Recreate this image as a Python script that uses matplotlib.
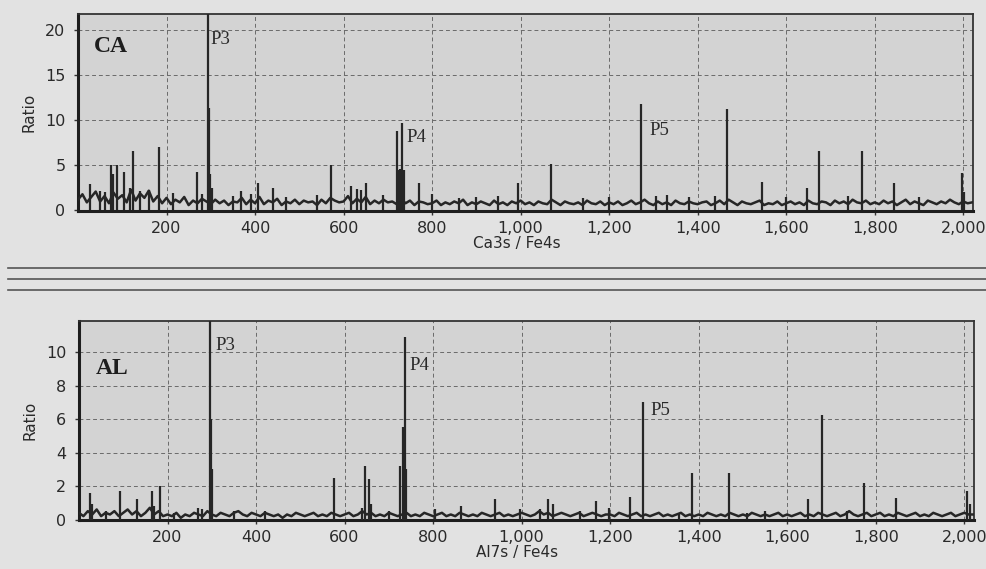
import matplotlib
matplotlib.use("Agg")
import matplotlib.pyplot as plt
from matplotlib.lines import Line2D
from matplotlib.ticker import FuncFormatter

# baseline trace, one value every 10 units from 0 to 2020
base_step = 10
ca_base = [
    1.2, 1.8, 0.9, 1.5, 2.1, 1.0, 1.6, 0.8, 2.0, 1.3, 1.7, 0.9, 2.3, 1.1, 1.9, 1.4, 2.2, 1.0, 1.6, 0.8,
    1.4, 0.7, 1.2, 0.9, 1.5, 0.6, 1.1, 0.8, 1.3, 1.0, 0.7, 1.2, 0.8, 1.1, 0.6, 1.0, 0.9, 1.4, 0.7, 1.2,
    0.8, 1.5, 0.7, 1.1, 0.9, 1.3, 0.6, 1.0, 0.8, 1.2, 0.7, 1.1, 0.9, 1.0, 0.6, 1.2, 0.8, 1.4, 1.1, 0.9,
    1.0, 1.6, 0.8, 1.3, 0.9, 1.5, 0.7, 1.1, 0.8, 1.2, 0.9, 1.0, 0.7, 1.3, 0.8, 1.1, 0.6, 1.0, 0.9, 0.7,
    0.8, 1.1, 0.6, 0.9, 0.7, 1.0, 0.8, 1.2, 0.6, 0.9, 0.7, 1.0, 0.8, 0.6, 1.1, 0.7, 0.9, 0.6, 1.0, 0.8,
    1.1, 0.7, 0.9, 0.6, 1.0, 0.8, 0.7, 1.2, 0.9, 0.6, 1.0, 0.8, 0.7, 0.9, 0.6, 1.1, 0.8, 0.7, 1.0, 0.6,
    0.9, 0.7, 1.0, 0.6, 0.8, 1.1, 0.7, 0.9, 1.2, 0.8, 0.6, 1.0, 0.7, 0.9, 0.6, 1.1, 0.8, 0.7, 1.0, 0.8,
    0.7, 0.9, 1.0, 0.6, 0.8, 1.1, 0.7, 1.2, 0.9, 0.6, 1.0, 0.8, 0.7, 0.9, 1.1, 0.6, 0.8, 0.7, 1.0, 0.6,
    0.8, 1.0, 0.7, 0.9, 0.6, 1.1, 0.8, 0.7, 1.0, 0.9, 0.6, 1.1, 0.8, 1.0, 0.7, 1.2, 0.9, 0.8, 1.1, 0.7,
    0.9, 0.7, 1.1, 0.8, 1.0, 0.6, 0.9, 1.2, 0.7, 1.0, 0.8, 0.6, 1.1, 0.9, 0.7, 1.0, 0.8, 1.2, 0.9, 0.7,
    1.0, 0.8, 0.9,
]
al_base = [
    0.4, 0.2, 0.5, 0.3, 0.6, 0.2, 0.4, 0.3, 0.5, 0.2, 0.4, 0.6, 0.3, 0.5, 0.2, 0.4, 0.7, 0.3, 0.5, 0.2,
    0.3, 0.2, 0.4, 0.1, 0.3, 0.2, 0.4, 0.3, 0.2, 0.5, 0.3, 0.2, 0.4, 0.3, 0.2, 0.4, 0.5, 0.3, 0.2, 0.4,
    0.3, 0.2, 0.4, 0.3, 0.2, 0.3, 0.1, 0.3, 0.2, 0.4, 0.3, 0.2, 0.3, 0.4, 0.2, 0.3, 0.2, 0.4, 0.3, 0.2,
    0.3, 0.4, 0.2, 0.3, 0.5, 0.3, 0.4, 0.2, 0.3, 0.2, 0.4, 0.3, 0.2, 0.3, 0.4, 0.2, 0.3, 0.2, 0.4, 0.3,
    0.2, 0.3, 0.4, 0.2, 0.3, 0.2, 0.4, 0.3, 0.2, 0.3, 0.2, 0.4, 0.3, 0.2, 0.3, 0.4, 0.2, 0.3, 0.2, 0.3,
    0.4, 0.3, 0.2, 0.3, 0.5, 0.3, 0.4, 0.2, 0.3, 0.4, 0.3, 0.2, 0.3, 0.4, 0.2, 0.3, 0.4, 0.3, 0.2, 0.3,
    0.3, 0.2, 0.4, 0.3, 0.2, 0.3, 0.4, 0.2, 0.3, 0.2, 0.3, 0.4, 0.2, 0.3, 0.2, 0.3, 0.4, 0.2, 0.3, 0.2,
    0.3, 0.2, 0.4, 0.3, 0.2, 0.3, 0.2, 0.4, 0.3, 0.2, 0.3, 0.2, 0.4, 0.3, 0.2, 0.3, 0.2, 0.3, 0.4, 0.2,
    0.3, 0.2, 0.3, 0.4, 0.2, 0.3, 0.2, 0.4, 0.3, 0.2, 0.3, 0.4, 0.2, 0.3, 0.5, 0.3, 0.2, 0.3, 0.4, 0.2,
    0.3, 0.4, 0.2, 0.3, 0.2, 0.4, 0.3, 0.2, 0.3, 0.4, 0.2, 0.3, 0.2, 0.4, 0.3, 0.2, 0.3, 0.4, 0.2, 0.3,
    0.4, 0.3, 0.3,
]

# spikes (position, ratio)
ca_spike_x = [28, 50, 62, 75, 80, 88, 105, 118, 125, 140, 160, 183, 215, 269, 280, 293, 296, 299, 302,
              350, 369, 390, 406, 440, 470, 540, 572, 617, 630, 640, 651, 690, 720, 724, 728, 733, 736,
              770, 800, 860, 900, 950, 993, 1068, 1140, 1200, 1273, 1305, 1330, 1380, 1440, 1466,
              1545, 1600, 1646, 1673, 1740, 1771, 1843, 1900, 1997, 2002]
ca_spike_y = [2.9, 2.2, 2.0, 5.0, 4.0, 5.0, 4.3, 2.5, 6.6, 2.2, 2.3, 7.0, 1.9, 4.3, 1.8, 24.0, 11.4, 4.0, 2.5,
              1.6, 2.2, 1.8, 3.0, 2.5, 1.5, 1.7, 5.0, 2.7, 2.4, 2.3, 3.0, 1.7, 8.8, 4.5, 4.6, 9.7, 4.5,
              3.0, 1.8, 1.4, 1.5, 1.6, 3.1, 5.2, 1.4, 1.5, 11.8, 1.6, 1.7, 1.5, 1.6, 11.3,
              3.2, 1.5, 2.5, 6.6, 1.6, 6.6, 3.1, 1.5, 4.2, 2.0]
al_spike_x = [26, 30, 60, 92, 130, 166, 170, 182, 215, 270, 279, 296, 298, 301, 350, 420, 576, 640, 646,
              655, 660, 700, 725, 733, 736, 739, 805, 862, 939, 996, 1041, 1059, 1070, 1131, 1169,
              1197, 1246, 1275, 1355, 1386, 1468, 1510, 1549, 1648, 1678, 1735, 1773, 1845, 2006, 2012]
al_spike_y = [1.6, 0.9, 0.5, 1.7, 1.25, 1.7, 0.8, 2.0, 0.4, 0.7, 0.6, 14.0, 6.0, 3.0, 0.5, 0.5, 2.5, 0.7, 3.2,
              2.4, 0.9, 0.5, 3.2, 5.5, 10.9, 3.0, 0.6, 0.8, 1.25, 0.6, 0.6, 1.2, 0.9, 0.5, 1.1,
              0.7, 1.35, 7.0, 0.4, 2.75, 2.75, 0.4, 0.5, 1.2, 6.25, 0.5, 2.2, 1.3, 1.7, 0.9]

x_ticks = [200, 400, 600, 800, 1000, 1200, 1400, 1600, 1800, 2000]
ca_yticks = [0, 5, 10, 15, 20]
al_yticks = [0, 2, 4, 6, 8, 10]

# peak labels: (text, x, y)
ca_peaks = [("P3", 300, 19.0), ("P4", 742, 8.1), ("P5", 1291, 8.9)]
al_peaks = [("P3", 309, 10.4), ("P4", 746, 9.2), ("P5", 1291, 6.5)]

ink = "#262626"
fig = plt.figure(figsize=(9.86, 5.69), dpi=100, facecolor="#e2e2e2")


def draw_panel(rect, base, sx, sy, yticks, ytop, name, name_y, peaks, xlabel):
    ax = fig.add_axes(rect, facecolor="#d3d3d3")
    bx = [i * base_step for i in range(len(base))]
    ax.plot(bx, base, color=ink, lw=1.8, zorder=3)
    ax.vlines(sx, 0, sy, color=ink, lw=1.6, zorder=3)
    ax.set_xlim(0, 2022)
    ax.set_ylim(-0.05 * ytop / 20, ytop)
    ax.set_xticks(x_ticks)
    ax.set_yticks(yticks)
    ax.xaxis.set_major_formatter(FuncFormatter(lambda v, p: f"{int(v):,}"))
    ax.grid(True, color="#6a6a6a", lw=0.7, linestyle=(0, (4, 3)), zorder=1)
    ax.tick_params(axis="both", labelsize=11.5, colors="#333333", length=3, width=1)
    ax.tick_params(axis="x", pad=4)
    ax.tick_params(axis="y", pad=6)
    for lbl in ax.get_xticklabels() + ax.get_yticklabels():
        lbl.set_color("#2a2a2a")
    for s in ("left", "bottom"):
        ax.spines[s].set_linewidth(2.2)
        ax.spines[s].set_color("#1e1e1e")
    for s in ("top", "right"):
        ax.spines[s].set_linewidth(1.3)
        ax.spines[s].set_color("#333333")
    ax.set_ylabel("Ratio", fontsize=11, color="#2a2a2a", labelpad=6)
    ax.set_xlabel(xlabel, fontsize=11, color="#2a2a2a", labelpad=0, x=0.49)
    ax.text(37, name_y, name, family="Liberation Serif", fontweight="bold",
            fontsize=17, color="#1e1e1e", va="center", ha="left")
    for txt, px, py in peaks:
        ax.text(px, py, txt, family="Liberation Serif", fontsize=13.5,
                color="#2a2a2a", va="center", ha="left")
    return ax


draw_panel([0.0791, 0.6292, 0.9077, 0.3462], ca_base, ca_spike_x, ca_spike_y,
           ca_yticks, 21.8, "CA", 18.2, ca_peaks, "Ca3s / Fe4s")
draw_panel([0.0801, 0.0861, 0.9077, 0.3497], al_base, al_spike_x, al_spike_y,
           al_yticks, 11.85, "AL", 9.0, al_peaks, "Al7s / Fe4s")

# separator lines between the two panels
for yy in (268, 279, 290):
    fig.add_artist(Line2D([8 / 986, 1.0], [1 - yy / 569, 1 - yy / 569],
                          color="#555555", lw=1.2))

fig.savefig("out.png", dpi=100, facecolor=fig.get_facecolor())
